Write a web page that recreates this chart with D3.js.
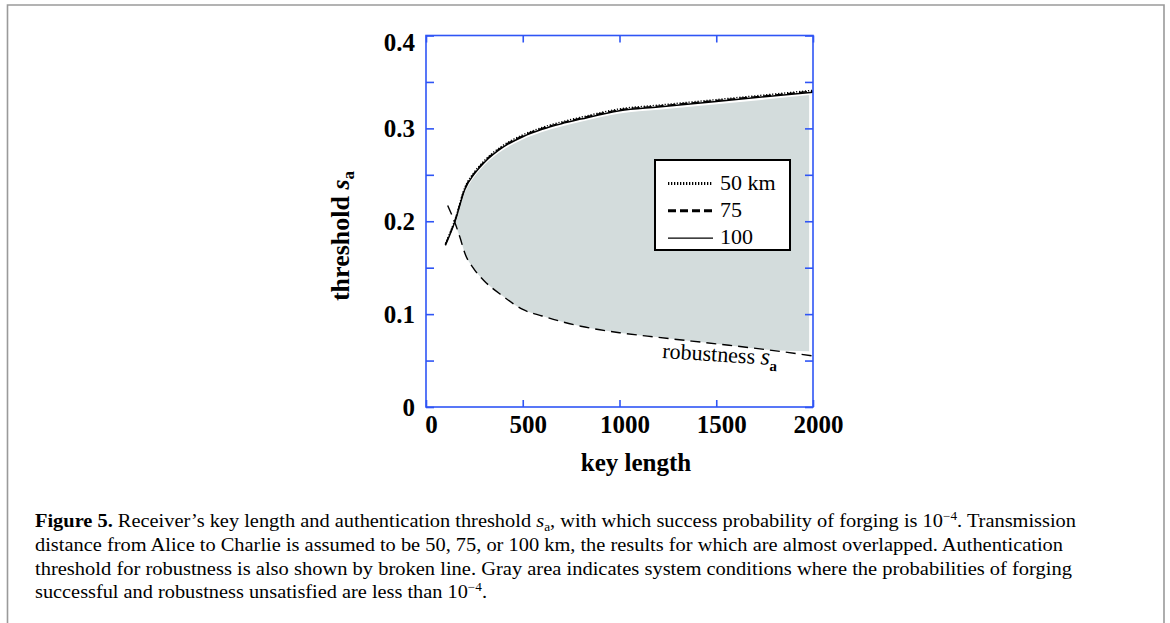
<!DOCTYPE html>
<html>
<head>
<meta charset="utf-8">
<script src="https://cdn.jsdelivr.net/npm/d3@7"></script>
<style>
  html, body { margin: 0; padding: 0; background: #fff; }
  svg { display: block; }
</style>
</head>
<body>
<svg id="chart" width="1170" height="623"></svg>
<script>
// ---------------- data ----------------
const keyUpper = [100, 150, 200, 250, 300, 400, 500, 600, 700, 800, 1000, 1200, 1500, 1750, 2000];
const sa100 = [0.174, 0.200, 0.234, 0.251, 0.263, 0.280, 0.291, 0.299, 0.305, 0.310, 0.319, 0.323, 0.329, 0.334, 0.339];
const sa75  = [0.175, 0.201, 0.235, 0.252, 0.264, 0.281, 0.292, 0.300, 0.306, 0.311, 0.320, 0.324, 0.330, 0.335, 0.340];
const sa50  = [0.176, 0.202, 0.236, 0.253, 0.265, 0.282, 0.293, 0.301, 0.307, 0.312, 0.321, 0.325, 0.331, 0.336, 0.341];

const keyRobust = [112, 150, 175, 200, 250, 300, 400, 500, 600, 700, 800, 1000, 1200, 1500, 1750, 2000];
const saRobust  = [0.217, 0.198, 0.183, 0.166, 0.148, 0.136, 0.119, 0.105, 0.098, 0.092, 0.087, 0.080, 0.075, 0.068, 0.062, 0.055];

const keyGray    = [146, 175, 200, 250, 300, 400, 500, 600, 700, 800, 1000, 1200, 1500, 1750, 1980];
const grayTop    = [0.199, 0.218, 0.231, 0.248, 0.260, 0.277, 0.288, 0.296, 0.302, 0.307, 0.316, 0.320, 0.326, 0.331, 0.336];
const grayBottom = [0.199, 0.183, 0.166, 0.148, 0.136, 0.119, 0.105, 0.098, 0.092, 0.087, 0.080, 0.075, 0.068, 0.062, 0.060];

const xTicks = [0, 500, 1000, 1500, 2000];
const yTicks = [0, 0.1, 0.2, 0.3, 0.4];
const yMinorTicks = [0.05, 0.15, 0.25, 0.35];

const legendLabels = ["50 km", "75", "100"];

// ---------------- layout ----------------
const svg = d3.select("#chart");
const W = 1170, H = 623;
const plot = { left: 426, right: 813, top: 35.5, bottom: 407 };

const x = d3.scaleLinear().domain([0, 2000]).range([plot.left, plot.right]);
const y = d3.scaleLinear().domain([0, 0.4]).range([plot.bottom, plot.top]);

const BLUE = "#2f55f5";
const serif = "'Liberation Serif', 'Times New Roman', serif";

// figure border
svg.append("path")
  .attr("d", `M7.5,${H} V5 H1164 V${H}`)
  .attr("fill", "none")
  .attr("stroke", "#9a9a9a")
  .attr("stroke-width", 1.6);

// gray area
const area = d3.area()
  .x((d, i) => x(keyGray[i]))
  .y0((d, i) => y(grayBottom[i]))
  .y1((d, i) => y(grayTop[i]))
  .curve(d3.curveMonotoneX);
svg.append("path")
  .datum(keyGray)
  .attr("d", area)
  .attr("fill", "#d3dcdc");

// lines
const lineGen = (keys, vals) => d3.line()
  .x((d, i) => x(keys[i]))
  .y((d, i) => y(vals[i]))
  .curve(d3.curveMonotoneX)(keys);

svg.append("path").attr("d", lineGen(keyRobust, saRobust))
  .attr("fill", "none").attr("stroke", "#000").attr("stroke-width", 1.4)
  .attr("stroke-dasharray", "10,6");

svg.append("path").attr("d", lineGen(keyUpper, sa75))
  .attr("fill", "none").attr("stroke", "#000").attr("stroke-width", 1.4)
  .attr("stroke-dasharray", "8,4");
svg.append("path").attr("d", lineGen(keyUpper, sa50))
  .attr("fill", "none").attr("stroke", "#000").attr("stroke-width", 1.4)
  .attr("stroke-dasharray", "1.2,1.8");
svg.append("path").attr("d", lineGen(keyUpper, sa100))
  .attr("fill", "none").attr("stroke", "#000").attr("stroke-width", 1.5);

// frame
svg.append("rect")
  .attr("x", plot.left).attr("y", plot.top)
  .attr("width", plot.right - plot.left).attr("height", plot.bottom - plot.top)
  .attr("fill", "none").attr("stroke", BLUE).attr("stroke-width", 1.6);

// axes with inward ticks
const axB = svg.append("g").attr("transform", `translate(0,${plot.bottom})`)
  .call(d3.axisBottom(x).tickValues(xTicks).tickSize(-7).tickFormat(d3.format("d")));
const axT = svg.append("g").attr("transform", `translate(0,${plot.top})`)
  .call(d3.axisTop(x).tickValues(xTicks).tickSize(-7).tickFormat(""));
const axL = svg.append("g").attr("transform", `translate(${plot.left},0)`)
  .call(d3.axisLeft(y).tickValues(yTicks).tickSize(-8).tickPadding(11)
    .tickFormat(d => d === 0 ? "0" : d3.format(".1f")(d)));
const axLm = svg.append("g").attr("transform", `translate(${plot.left},0)`)
  .call(d3.axisLeft(y).tickValues(yMinorTicks).tickSize(-8).tickFormat(""));
const axR = svg.append("g").attr("transform", `translate(${plot.right},0)`)
  .call(d3.axisRight(y).tickValues(yTicks.concat(yMinorTicks)).tickSize(-8).tickFormat(""));

[axB, axT, axL, axLm, axR].forEach(g => {
  g.select(".domain").remove();
  g.selectAll(".tick line").attr("stroke", BLUE).attr("stroke-width", 1.6);
  g.selectAll(".tick text")
    .attr("fill", "#000")
    .attr("font-family", serif)
    .attr("font-weight", "bold")
    .attr("font-size", 25);
});
// x tick labels: baseline below axis, slightly right of tick
axB.selectAll(".tick text").attr("y", 26).attr("dy", 0).attr("x", 5);
// top y label sits a little below its tick in the original
axL.selectAll(".tick text").filter(d => d === 0.4).attr("dy", "0.32em").attr("y", 7);

// axis titles
svg.append("text")
  .attr("x", 636).attr("y", 471)
  .attr("text-anchor", "middle")
  .attr("font-family", serif).attr("font-weight", "bold").attr("font-size", 25)
  .text("key length");

const yl = svg.append("text")
  .attr("transform", "translate(349,236) rotate(-90)")
  .attr("text-anchor", "middle")
  .attr("font-family", serif).attr("font-weight", "bold").attr("font-size", 26);
yl.append("tspan").text("threshold ");
yl.append("tspan").attr("font-style", "italic").text("s");
yl.append("tspan").attr("font-size", 17).attr("dy", 5).text("a");

// robustness label
const rl = svg.append("text")
  .attr("transform", "translate(662,358) rotate(3.6)")
  .attr("font-family", serif).attr("font-size", 22);
rl.append("tspan").text("robustness ");
rl.append("tspan").attr("font-style", "italic").attr("font-size", 24).text("s");
rl.append("tspan").attr("font-size", 15).attr("font-weight", "bold").attr("dy", 6).text("a");

// legend
const lg = svg.append("g");
lg.append("rect")
  .attr("x", 655).attr("y", 160).attr("width", 135).attr("height", 90)
  .attr("fill", "#fff").attr("stroke", "#000").attr("stroke-width", 2);
const legendDash = ["1.3,1.7", "8,4", null];
const legendWidth = [3, 3, 1.4];
legendLabels.forEach((lab, i) => {
  const yy = 183.5 + i * 27.3;
  const ln = lg.append("line")
    .attr("x1", 668).attr("x2", 713).attr("y1", yy).attr("y2", yy)
    .attr("stroke", "#000").attr("stroke-width", legendWidth[i]);
  if (legendDash[i]) ln.attr("stroke-dasharray", legendDash[i]);
  lg.append("text")
    .attr("x", 720).attr("y", yy + 6)
    .attr("font-family", serif).attr("font-size", 22)
    .text(lab);
});

// caption
const capFont = serif;
const capSize = 18.5;
const capX = 35;
const capY = [527, 551, 575, 598];
const capEnd = [1076, 1063, 1072, 487];
const c1 = svg.append("text").attr("x", capX).attr("y", capY[0])
  .attr("font-family", capFont).attr("font-size", capSize);
c1.append("tspan").attr("font-weight", "bold").text("Figure 5.");
c1.append("tspan").text(" Receiver’s key length and authentication threshold ");
c1.append("tspan").attr("font-style", "italic").text("s");
c1.append("tspan").attr("font-size", 12).attr("dy", 4).text("a");
c1.append("tspan").attr("dy", -4).text(", with which success probability of forging is 10");
c1.append("tspan").attr("font-size", 12).attr("dy", -7).text("−4");
c1.append("tspan").attr("dy", 7).text(". Transmission");

const c2 = svg.append("text").attr("x", capX).attr("y", capY[1])
  .attr("font-family", capFont).attr("font-size", capSize)
  .text("distance from Alice to Charlie is assumed to be 50, 75, or 100 km, the results for which are almost overlapped. Authentication");
const c3 = svg.append("text").attr("x", capX).attr("y", capY[2])
  .attr("font-family", capFont).attr("font-size", capSize)
  .text("threshold for robustness is also shown by broken line. Gray area indicates system conditions where the probabilities of forging");
const c4 = svg.append("text").attr("x", capX).attr("y", capY[3])
  .attr("font-family", capFont).attr("font-size", capSize);
c4.append("tspan").text("successful and robustness unsatisfied are less than 10");
c4.append("tspan").attr("font-size", 12).attr("dy", -7).text("−4");
c4.append("tspan").attr("dy", 7).text(".");

[c1, c2, c3, c4].forEach((t, i) => {
  t.attr("textLength", capEnd[i] - capX).attr("lengthAdjust", "spacingAndGlyphs");
});
</script>
</body>
</html>
